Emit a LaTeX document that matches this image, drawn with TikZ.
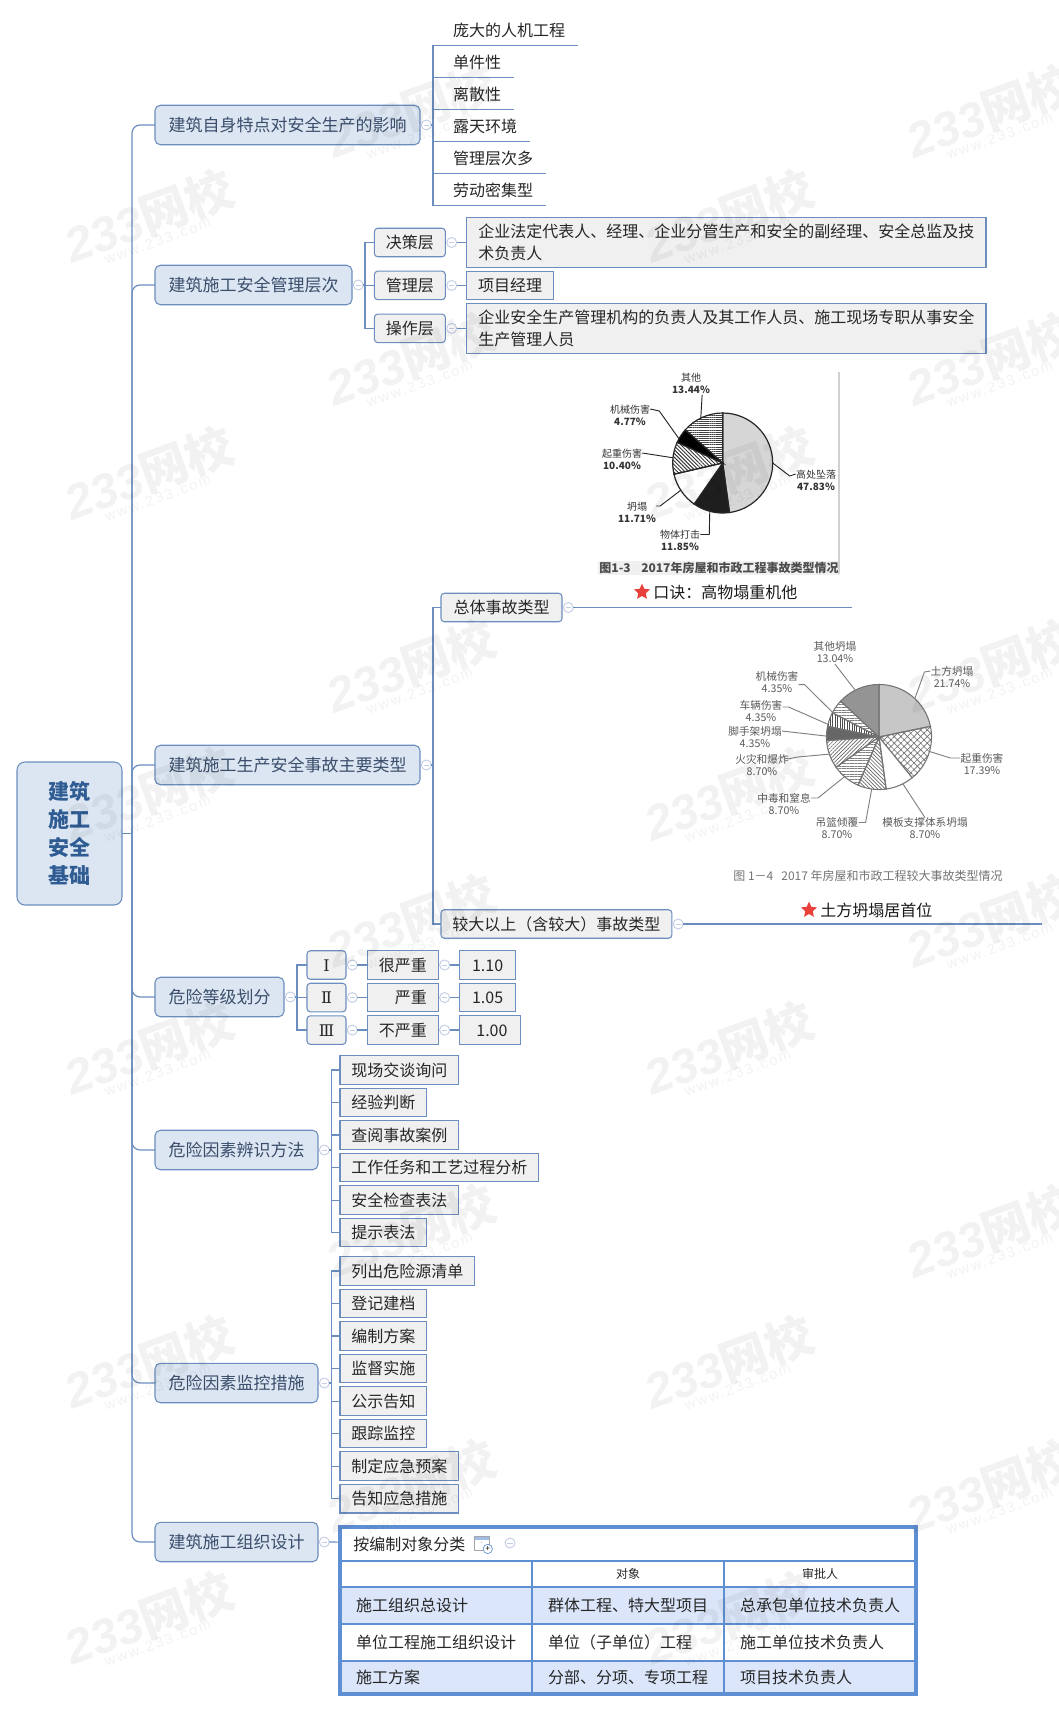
\documentclass[tikz,border=0pt]{standalone}
\usepackage{fontspec}
\setmainfont{Noto Sans CJK SC}
\newfontfamily\wmlatin{Liberation Sans}
\newfontfamily\wmurl[LetterSpace=14]{Liberation Sans}
\newfontfamily\numfont{DejaVu Serif}
\usetikzlibrary{positioning, shapes.geometric, patterns.meta}
\definecolor{linec}{HTML}{6C8EBF}
\definecolor{rootfill}{HTML}{DCE6F2}
\definecolor{rootink}{HTML}{2F5C93}
\definecolor{topicink}{HTML}{3A4D6B}
\definecolor{leafgray}{HTML}{F0F0F0}
\definecolor{foldc}{HTML}{C3CEE6}
\definecolor{tabline}{HTML}{5F8FD3}
\definecolor{tabfill}{HTML}{DCE6FA}
\definecolor{starc}{HTML}{E8403A}
\newcommand{\slice}[5]{\filldraw[#5] (#1.center) -- ++(#2:#4) arc[start angle=#2,end angle=#3,radius=#4] -- cycle;}
\newcommand{\wmtext}{{\fontsize{36}{36}\selectfont\bfseries{\wmlatin\itshape 233}网校}\\[-2pt]{\wmurl\fontsize{11}{13}\selectfont www.233.com}}
\tikzset{
	node distance=3pt,
	branch/.style={draw=linec, line width=.9pt},
	root/.style={rectangle, rounded corners=6pt, draw=linec, line width=.8pt, fill=rootfill, text=rootink, font=\fontsize{15.75}{21}\selectfont\bfseries, align=center, minimum width=78.75pt, minimum height=107.25pt, outer sep=0pt},
	topic/.style={rectangle, rounded corners=4pt, draw=linec, line width=.8pt, fill=rootfill, text=topicink, font=\fontsize{12.75}{15}\selectfont, inner xsep=10.125pt, inner ysep=0pt, minimum height=29.6pt, text height=11pt, text depth=1.3pt, outer sep=0pt, anchor=west},
	sub/.style={rectangle, rounded corners=2.5pt, draw=linec, line width=.8pt, fill=leafgray, text=black!85, font=\fontsize{12}{15}\selectfont, inner xsep=8.6pt, inner ysep=0pt, minimum height=21.4pt, text height=10.4pt, text depth=1.2pt, outer sep=0pt},
	leaf/.style={sub, rounded corners=0pt},
	detail/.style={rectangle, draw=linec, line width=.8pt, fill=leafgray, text=black!85, font=\fontsize{12}{16.5}\selectfont, align=left, inner xsep=8.25pt, inner ysep=0pt, minimum height=37.5pt, minimum width=389.5pt, outer sep=0pt},
	tick/.style={rectangle, text=black!85, font=\fontsize{12}{15}\selectfont, inner xsep=9.75pt, inner ysep=0pt, minimum height=24pt, text height=12pt, text depth=.6pt, outer sep=0pt},
	foldmark/.style={circle, draw=foldc, line width=.7pt, fill=white, minimum size=7.5pt, inner sep=0pt, outer sep=0pt, path picture={\draw[foldc, line width=.7pt] ([xshift=-2pt]path picture bounding box.center) -- ([xshift=2pt]path picture bounding box.center);}},
	redstar/.style={star, star points=5, star point ratio=2.1, fill=starc, minimum size=12.5pt, inner sep=0pt, outer sep=0pt},
	marktext/.style={inner sep=0pt, text=black!90, font=\fontsize{12}{15}\selectfont},
	piebase/.style={circle, fill=white, inner sep=0pt, outer sep=0pt},
	lead/.style={draw=black!85, line width=.7pt},
	leadgray/.style={draw=black!50, line width=.7pt},
	labdark/.style={inner sep=0pt, align=center, text=black!80, font=\fontsize{7.5}{9}\selectfont},
	lablight/.style={inner sep=0pt, align=center, text=black!65, font=\fontsize{8}{9}\selectfont},
	tabcell/.style={rectangle, draw=tabline, line width=2pt, fill=white, text=black!85, font=\fontsize{12}{15}\selectfont, align=left, text width=120pt, inner xsep=12pt, inner ysep=0pt, minimum height=27.75pt, outer sep=0pt},
	wmark/.style={rotate=20, align=center, text=black, text opacity=.05, inner sep=0pt}
}

\begin{document}
\begin{tikzpicture}[x=.75pt, y=-.75pt]
	\useasboundingbox (0,0) rectangle (1058,1710);

	\node[root] (root) at (69.5,833.5) {建筑\\施工\\安全\\基础};
	\coordinate[right=7.5pt of root] (trunk);

	\node[topic] (t1) at (155,125) {建筑自身特点对安全生产的影响};
	\node[topic] (t2) at (155,285) {建筑施工安全管理层次};
	\node[topic] (t3) at (155,765) {建筑施工生产安全事故主要类型};
	\node[topic] (t4) at (155,997) {危险等级划分};
	\node[topic] (t5) at (155,1150) {危险因素辨识方法};
	\node[topic] (t6) at (155,1383) {危险因素监控措施};
	\node[topic] (t7) at (155,1542) {建筑施工组织设计};

	\node[foldmark, right=1pt of t1] (f1) {};
	\node[foldmark, right=1pt of t2] (f2) {};
	\node[foldmark, right=1pt of t3] (f3) {};
	\node[foldmark, right=1pt of t4] (f4) {};
	\node[foldmark, right=1pt of t5] (f5) {};
	\node[foldmark, right=1pt of t6] (f6) {};
	\node[foldmark, right=1pt of t7] (f7) {};
	\coordinate[right=1.2pt of f1] (sp1);
	\coordinate[right=1.2pt of f2] (sp2);
	\coordinate[right=1.2pt of f3] (sp3);
	\coordinate[right=1.2pt of f4] (sp4);
	\coordinate[right=1.5pt of f5] (sp5);
	\coordinate[right=1.5pt of f6] (sp6);

	\node[tick, anchor=north west] (l1) at (440,13.3) {庞大的人机工程};
	\node[tick, below=0pt of l1.south west, anchor=north west] (l2) {单件性};
	\node[tick, below=0pt of l2.south west, anchor=north west] (l3) {离散性};
	\node[tick, below=0pt of l3.south west, anchor=north west] (l4) {露天环境};
	\node[tick, below=0pt of l4.south west, anchor=north west] (l5) {管理层次多};
	\node[tick, below=0pt of l5.south west, anchor=north west] (l6) {劳动密集型};

	\node[sub, anchor=west] (m1) at (374.4,242.5) {决策层};
	\node[sub, below=10.8pt of m1] (m2) {管理层};
	\node[sub, below=10.8pt of m2] (m3) {操作层};
	\node[foldmark, right=1pt of m1] (f21) {};
	\node[foldmark, right=1pt of m2] (f22) {};
	\node[foldmark, right=1pt of m3] (f23) {};
	\node[detail, right=7.5pt of f21] (n1) {企业法定代表人、经理、企业分管生产和安全的副经理、安全总监及技\\术负责人};
	\node[leaf, right=7.5pt of f22] (n2) {项目经理};
	\node[detail, right=7.5pt of f23] (n3) {企业安全生产管理机构的负责人及其工作人员、施工现场专职从事安全\\生产管理人员};

	\node[piebase, minimum size=75pt] (pieA) at (722.7,463) {};
	\slice{pieA}{90}{-82.19}{37.5pt}{draw=black!85, line width=.9pt, fill=black!16}
	\slice{pieA}{-82.19}{-124.85}{37.5pt}{draw=black!85, line width=.9pt, fill=black!88}
	\slice{pieA}{-124.85}{-167.01}{37.5pt}{draw=black!85, line width=.9pt, fill=white}
	\slice{pieA}{-167.01}{-204.45}{37.5pt}{draw=black!85, line width=.9pt, pattern={Lines[angle=-45,distance=2pt,line width=.7pt]}, pattern color=black!80}
	\slice{pieA}{-204.45}{-221.62}{37.5pt}{draw=black!85, line width=.9pt, fill=black}
	\slice{pieA}{-221.62}{-270}{37.5pt}{draw=black!85, line width=.9pt, pattern={Lines[angle=0,distance=1.6pt,line width=.7pt]}, pattern color=black!75}
	\node[labdark] (laA1) at (691,383) {其他\\\textbf{13.44\%}};
	\node[labdark] (laA2) at (630,415) {机械伤害\\\textbf{4.77\%}};
	\node[labdark] (laA3) at (622,459) {起重伤害\\\textbf{10.40\%}};
	\node[labdark] (laA4) at (637,512) {坍塌\\\textbf{11.71\%}};
	\node[labdark] (laA5) at (680,540.5) {物体打击\\\textbf{11.85\%}};
	\node[labdark] (laA6) at (816,480) {高处坠落\\\textbf{47.83\%}};
	\draw[lead] ([xshift=-6pt,yshift=-1pt]laA1.south east) -- (pieA.116);
	\draw[lead] ([yshift=4.5pt]laA2.east) -- ++(9,2) -- (pieA.151);
	\draw[lead] ([yshift=4.5pt]laA3.east) -- (pieA.174);
	\draw[lead] ([yshift=4.5pt]laA4.east) -- ++(4,0) -- (pieA.213);
	\draw[lead] ([yshift=4.5pt]laA5.east) -- ++(9,0) -- (pieA.255);
	\draw[lead] (pieA.0) -- ++(17,13) -- ([yshift=4.5pt]laA6.west);
	\node[inner sep=1pt, fill=leafgray, text=black!70, font=\fontsize{9}{11}\selectfont\bfseries] (capA) at (719,568) {图1-3\hspace{8pt}2017年房屋和市政工程事故类型情况};
	\draw[black!18, line width=.8pt] (839,372) -- (839,574);

	\node[sub, anchor=west, minimum width=90.75pt] (s1) at (441,607.5) {总体事故类型};
	\node[foldmark, right=1pt of s1] (fs1) {};
	\coordinate (e1) at (852,607.5);
	\node[redstar] (st1) at (642,592) {};
	\node[marktext, right=4.5pt of st1] (kj) {口诀：高物塌重机他};

	\node[piebase, minimum size=79pt] (pieB) at (879,737) {};
	\slice{pieB}{90}{11.74}{39.4pt}{draw=black!55, line width=.8pt, fill=black!22}
	\slice{pieB}{11.74}{-50.86}{39.4pt}{draw=black!55, line width=.8pt, pattern={Hatch[angle=45,distance=3.5pt,line width=.5pt]}, pattern color=black!55}
	\slice{pieB}{-50.86}{-82.18}{39.4pt}{draw=black!55, line width=.8pt, fill=white}
	\slice{pieB}{-82.18}{-113.5}{39.4pt}{draw=black!55, line width=.8pt, pattern={Lines[angle=-45,distance=2pt,line width=.5pt]}, pattern color=black!60}
	\slice{pieB}{-113.5}{-144.82}{39.4pt}{draw=black!55, line width=.8pt, pattern={Lines[angle=0,distance=2pt,line width=.5pt]}, pattern color=black!50}
	\slice{pieB}{-144.82}{-176.14}{39.4pt}{draw=black!55, line width=.8pt, pattern={Lines[angle=45,distance=2pt,line width=.5pt]}, pattern color=black!60}
	\slice{pieB}{-176.14}{-191.8}{39.4pt}{draw=black!55, line width=.8pt, fill=black!60}
	\slice{pieB}{-191.8}{-207.46}{39.4pt}{draw=black!55, line width=.8pt, pattern={Lines[angle=90,distance=1.8pt,line width=.7pt]}, pattern color=black!70}
	\slice{pieB}{-207.46}{-223.12}{39.4pt}{draw=black!55, line width=.8pt, pattern={Lines[angle=0,distance=2pt,line width=.5pt]}, pattern color=black!50}
	\slice{pieB}{-223.12}{-270}{39.4pt}{draw=black!55, line width=.8pt, fill=black!42}
	\node[lablight] (lbB1) at (835,652) {其他坍塌\\13.04\%};
	\node[lablight] (lbB2) at (952,677) {土方坍塌\\21.74\%};
	\node[lablight] (lbB3) at (777,682) {机械伤害\\4.35\%};
	\node[lablight] (lbB4) at (761,711) {车辆伤害\\4.35\%};
	\node[lablight] (lbB5) at (755,737) {脚手架坍塌\\4.35\%};
	\node[lablight] (lbB6) at (762,765) {火灾和爆炸\\8.70\%};
	\node[lablight] (lbB7) at (784,804) {中毒和窒息\\8.70\%};
	\node[lablight] (lbB8) at (837,828.5) {吊篮倾覆\\8.70\%};
	\node[lablight] (lbB9) at (925,828.5) {模板支撑体系坍塌\\8.70\%};
	\node[lablight] (lbB10) at (982,764) {起重伤害\\17.39\%};
	\draw[leadgray] ([yshift=-1pt]lbB1.south) -- (pieB.117);
	\draw[leadgray] ([yshift=4.5pt]lbB2.west) -- ++(-6,1) -- (pieB.47);
	\draw[leadgray] ([yshift=-2pt]lbB3.east) -- ++(6,0) -- (pieB.152);
	\draw[leadgray] ([yshift=3pt]lbB4.east) -- ++(6,0) -- (pieB.166);
	\draw[leadgray] ([yshift=4.5pt]lbB5.east) -- (pieB.179);
	\draw[leadgray] ([yshift=4.5pt,xshift=-1pt]lbB6.east) -- ++(10,-2) -- (pieB.199);
	\draw[leadgray] ([yshift=4.5pt]lbB7.east) -- ++(7,0) -- (pieB.229);
	\draw[leadgray] ([yshift=4.5pt]lbB8.east) -- ++(7,0) -- (pieB.262);
	\draw[leadgray] (lbB9.north) -- (pieB.297);
	\draw[leadgray] ([yshift=4.5pt]lbB10.west) -- ++(-10,0) -- (pieB.344);
	\node[inner sep=0pt, text=black!55, font=\fontsize{9}{11}\selectfont] (capB) at (868,876) {图 1－4\hspace{6pt}2017 年房屋和市政工程较大事故类型情况};

	\node[sub, anchor=west, minimum width=90.75pt] (s2) at (441,924) {较大以上（含较大）事故类型};
	\node[foldmark, right=1pt of s2] (fs2) {};
	\coordinate (e2) at (1042,924);
	\node[redstar] (st2) at (809,910) {};
	\node[marktext, right=4.5pt of st2] (tf) {土方坍塌居首位};

	\node[sub, anchor=west, minimum width=29.25pt] (lv1) at (307,965) {\numfont Ⅰ};
	\node[sub, below=3pt of lv1, minimum width=29.25pt] (lv2) {\numfont Ⅱ};
	\node[sub, below=3pt of lv2, minimum width=29.25pt] (lv3) {\numfont Ⅲ};
	\node[foldmark, right=1pt of lv1] (f41) {};
	\node[foldmark, right=1pt of lv2] (f42) {};
	\node[foldmark, right=1pt of lv3] (f43) {};
	\node[leaf, right=7.5pt of f41] (gr1) {很严重};
	\node[leaf, right=7.5pt of f42] (gr2) {\hspace*{1em}严重};
	\node[leaf, right=7.5pt of f43] (gr3) {不严重};
	\node[foldmark, right=1pt of gr1] (f44) {};
	\node[foldmark, right=1pt of gr2] (f45) {};
	\node[foldmark, right=1pt of gr3] (f46) {};
	\node[leaf, right=7.5pt of f44, minimum width=42pt] (va1) {1.10};
	\node[leaf, right=7.5pt of f45, minimum width=42pt] (va2) {1.05};
	\node[leaf, right=7.5pt of f46, minimum width=45.5pt] (va3) {\hspace*{3pt}1.00};

	\node[leaf, anchor=west] (a1) at (340,1070) {现场交谈询问};
	\node[leaf, below=3pt of a1.south west, anchor=north west] (a2) {经验判断};
	\node[leaf, below=3pt of a2.south west, anchor=north west] (a3) {查阅事故案例};
	\node[leaf, below=3pt of a3.south west, anchor=north west] (a4) {工作任务和工艺过程分析};
	\node[leaf, below=3pt of a4.south west, anchor=north west] (a5) {安全检查表法};
	\node[leaf, below=3pt of a5.south west, anchor=north west] (a6) {提示表法};

	\node[leaf, anchor=west] (b1) at (340,1271) {列出危险源清单};
	\node[leaf, below=3pt of b1.south west, anchor=north west] (b2) {登记建档};
	\node[leaf, below=3pt of b2.south west, anchor=north west] (b3) {编制方案};
	\node[leaf, below=3pt of b3.south west, anchor=north west] (b4) {监督实施};
	\node[leaf, below=3pt of b4.south west, anchor=north west] (b5) {公示告知};
	\node[leaf, below=3pt of b5.south west, anchor=north west] (b6) {跟踪监控};
	\node[leaf, below=3pt of b6.south west, anchor=north west] (b7) {制定应急预案};
	\node[leaf, below=3pt of b7.south west, anchor=north west] (b8) {告知应急措施};

	\node[tabcell, anchor=north west, text width=412pt, minimum height=25.5pt, inner xsep=10pt] (hd) at (340,1527) {按编制对象分类};
	\node[tabcell, below=0pt of hd.south west, anchor=north west, minimum height=19.5pt] (c01) {};
	\node[tabcell, right=0pt of c01, minimum height=19.5pt, align=center, font=\fontsize{9}{11}\selectfont] (c02) {对象};
	\node[tabcell, right=0pt of c02, minimum height=19.5pt, align=center, font=\fontsize{9}{11}\selectfont] (c03) {审批人};
	\node[tabcell, below=0pt of c01.south west, anchor=north west, fill=tabfill] (c11) {施工组织总设计};
	\node[tabcell, right=0pt of c11, fill=tabfill] (c12) {群体工程、特大型项目};
	\node[tabcell, right=0pt of c12, fill=tabfill] (c13) {总承包单位技术负责人};
	\node[tabcell, below=0pt of c11.south west, anchor=north west] (c21) {单位工程施工组织设计};
	\node[tabcell, right=0pt of c21] (c22) {单位（子单位）工程};
	\node[tabcell, right=0pt of c22] (c23) {施工单位技术负责人};
	\node[tabcell, below=0pt of c21.south west, anchor=north west, minimum height=24.75pt, fill=tabfill] (c31) {施工方案};
	\node[tabcell, right=0pt of c31, minimum height=24.75pt, fill=tabfill] (c32) {分部、分项、专项工程};
	\node[tabcell, right=0pt of c32, minimum height=24.75pt, fill=tabfill] (c33) {项目技术负责人};
	\draw[tabline, line width=2.3pt] (hd.north west) rectangle (c33.south east);
	\node[rectangle, draw=black!35, fill=white, minimum width=11pt, minimum height=10.5pt, inner sep=0pt, path picture={\fill[tabline!60] (path picture bounding box.north west) rectangle ([yshift=-3pt]path picture bounding box.north east); \draw[black!30, line width=.4pt] ([yshift=1pt]path picture bounding box.center) -- ([yshift=-5.2pt]path picture bounding box.north);}] (addicon) at (481.5,1543) {};
	\node[circle, draw=tabline, fill=white, line width=.5pt, minimum size=7pt, inner sep=0pt, font=\fontsize{6}{6}\selectfont] (addplus) at ([xshift=-1pt,yshift=1pt]addicon.south east) {+};
	\node[foldmark] (fhd) at (510,1543) {};

	\draw[branch] (root) -- (trunk);
	\draw[branch, rounded corners=6pt] (trunk) |- (t1.west);
	\draw[branch, rounded corners=6pt] (trunk) |- (t2.west);
	\draw[branch, rounded corners=6pt] (trunk) |- (t3.west);
	\draw[branch, rounded corners=6pt] (trunk) |- (t4.west);
	\draw[branch, rounded corners=6pt] (trunk) |- (t5.west);
	\draw[branch, rounded corners=6pt] (trunk) |- (t6.west);
	\draw[branch, rounded corners=6pt] (trunk) |- (t7.west);

	\draw[branch] (f1) -- (sp1);
	\draw[branch] (sp1) |- (l1.south east);
	\draw[branch] (sp1) |- (l2.south east);
	\draw[branch] (sp1) |- (l3.south east);
	\draw[branch] (sp1) |- (l4.south east);
	\draw[branch] (sp1) |- (l5.south east);
	\draw[branch] (sp1) |- (l6.south east);

	\draw[branch] (f2) -- (sp2);
	\draw[branch] (sp2) |- (m1.west);
	\draw[branch] (sp2) |- (m2.west);
	\draw[branch] (sp2) |- (m3.west);
	\draw[branch] (f21) -- (n1);
	\draw[branch] (f22) -- (n2);
	\draw[branch] (f23) -- (n3);

	\draw[branch] (f3) -- (sp3);
	\draw[branch] (sp3) |- (s1.west);
	\draw[branch] (sp3) |- (s2.west);
	\draw[branch] (fs1) -- (e1);
	\draw[branch] (fs2) -- (e2);

	\draw[branch] (f4) -- (sp4);
	\draw[branch] (sp4) |- (lv1.west);
	\draw[branch] (sp4) |- (lv2.west);
	\draw[branch] (sp4) |- (lv3.west);
	\draw[branch] (f41) -- (gr1);
	\draw[branch] (f42) -- (gr2);
	\draw[branch] (f43) -- (gr3);
	\draw[branch] (f44) -- (va1);
	\draw[branch] (f45) -- (va2);
	\draw[branch] (f46) -- (va3);

	\draw[branch] (f5) -- (sp5);
	\draw[branch] (sp5) |- (a1.west);
	\draw[branch] (sp5) |- (a2.west);
	\draw[branch] (sp5) |- (a3.west);
	\draw[branch] (sp5) |- (a4.west);
	\draw[branch] (sp5) |- (a5.west);
	\draw[branch] (sp5) |- (a6.west);

	\draw[branch] (f6) -- (sp6);
	\draw[branch] (sp6) |- (b1.west);
	\draw[branch] (sp6) |- (b2.west);
	\draw[branch] (sp6) |- (b3.west);
	\draw[branch] (sp6) |- (b4.west);
	\draw[branch] (sp6) |- (b5.west);
	\draw[branch] (sp6) |- (b6.west);
	\draw[branch] (sp6) |- (b7.west);
	\draw[branch] (sp6) |- (b8.west);

	\draw[branch] (f7) -- (hd);

	\node[wmark] (w1) at (150,220) {\wmtext};
	\node[wmark] (w2) at (150,477) {\wmtext};
	\node[wmark] (w3) at (150,798) {\wmtext};
	\node[wmark] (w4) at (150,1052) {\wmtext};
	\node[wmark] (w5) at (150,1366) {\wmtext};
	\node[wmark] (w6) at (150,1622) {\wmtext};
	\node[wmark] (w7) at (412,115) {\wmtext};
	\node[wmark] (w8) at (412,363) {\wmtext};
	\node[wmark] (w9) at (412,670) {\wmtext};
	\node[wmark] (w10) at (412,925) {\wmtext};
	\node[wmark] (w11) at (412,1235) {\wmtext};
	\node[wmark] (w12) at (412,1490) {\wmtext};
	\node[wmark] (w13) at (730,220) {\wmtext};
	\node[wmark] (w14) at (730,477) {\wmtext};
	\node[wmark] (w15) at (730,798) {\wmtext};
	\node[wmark] (w16) at (730,1052) {\wmtext};
	\node[wmark] (w17) at (730,1366) {\wmtext};
	\node[wmark] (w18) at (730,1622) {\wmtext};
	\node[wmark] (w19) at (992,115) {\wmtext};
	\node[wmark] (w20) at (992,363) {\wmtext};
	\node[wmark] (w21) at (992,670) {\wmtext};
	\node[wmark] (w22) at (992,925) {\wmtext};
	\node[wmark] (w23) at (992,1235) {\wmtext};
	\node[wmark] (w24) at (992,1490) {\wmtext};
\end{tikzpicture}
\end{document}
